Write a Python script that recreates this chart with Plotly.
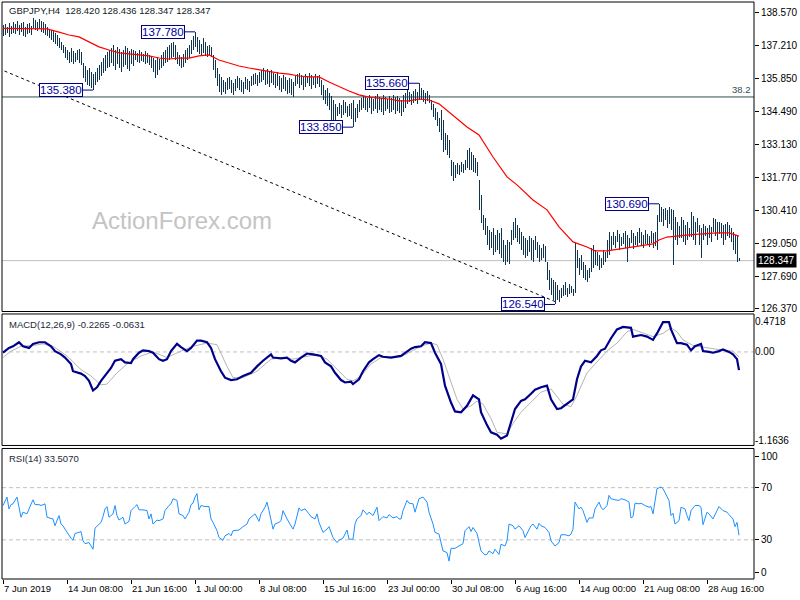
import plotly.graph_objects as go

# ---------------- data ----------------
symbol_title = "GBPJPY,H4\u00a0 128.420 128.436 128.347 128.347"
macd_title = "MACD(12,26,9) -0.2265 -0.0631"
rsi_title = "RSI(14) 33.5070"
watermark = "ActionForex.com"

# H4 bar highs / lows (bar index 0 = 7 Jun 2019)
highs = [
    138.06, 138.10, 137.98, 138.15, 138.02, 138.19, 138.10, 138.23, 138.06, 138.15,
    138.19, 137.98, 138.10, 138.15, 138.02, 138.35, 138.27, 138.19, 138.31, 138.23,
    138.19, 138.10, 137.98, 137.90,
    137.86, 137.82, 137.73, 137.65, 137.53, 137.36, 137.24,
    137.16, 137.03, 136.95, 137.12, 136.99, 136.91, 137.03, 137.07, 136.95,
    136.50, 136.37, 136.21, 136.29, 136.13, 136.04,
    136.13, 136.29, 136.41, 136.54, 136.70, 136.83, 136.95, 137.03,
    137.12, 137.24, 137.03, 137.16, 137.07, 136.95, 137.03, 137.20, 137.12, 136.99, 137.07, 137.03,
    136.99, 136.91, 137.03, 136.95, 136.87, 136.99, 136.91, 136.83,
    136.79, 136.70, 136.62, 136.74, 136.66,
    136.83, 136.95, 137.03, 137.16, 137.24, 137.32, 137.36, 137.24,
    136.95, 136.83, 136.74, 136.87, 137.03, 137.12,
    137.24, 137.44, 137.61, 137.78,
    137.57, 137.44, 137.28, 137.53, 137.36, 137.20, 137.24, 137.16,
    136.83, 136.62, 136.29, 136.04, 135.92,
    135.80, 135.71, 135.88, 135.92, 135.80, 135.67, 135.84, 135.96, 135.88, 135.80,
    135.71, 135.92, 135.84, 135.75, 135.96, 136.04, 136.08, 136.00, 136.13,
    136.21, 136.29, 136.17, 136.25, 136.13, 136.21, 136.08,
    136.04, 136.13, 135.96, 135.88, 136.00, 135.92, 135.80, 135.88, 135.84, 135.71,
    135.96, 136.04, 136.08, 136.00, 135.92, 136.04, 135.96, 136.08, 136.00, 135.92, 136.04, 135.96, 136.00,
    135.80, 135.59, 135.38, 135.47, 135.26, 135.14,
    134.97, 134.81, 134.68, 134.85, 134.76, 134.97, 134.89, 134.72, 134.81, 134.85, 134.97,
    134.64, 134.81, 134.97, 135.05, 135.14,
    135.14, 135.05, 135.18, 135.09, 135.01, 135.14, 135.22, 135.09, 135.05, 135.18,
    135.09, 135.01, 135.14, 135.05, 135.18, 135.09, 135.14, 135.05, 134.97,
    135.18, 135.26, 135.38, 135.30, 135.22, 135.34, 135.42, 135.30,
    135.66,
    135.47, 135.38, 135.26, 135.34, 135.18,
    134.97, 134.81, 134.64, 134.48, 134.23,
    134.56, 134.15,
    133.61, 133.53, 133.32,
    132.50, 132.42, 132.29,
    132.37, 132.29, 132.42, 132.33, 132.50,
    132.91, 132.99,
    132.83, 132.70, 132.58, 132.42,
    131.67, 131.05,
    130.23, 130.11,
    129.78, 129.61, 129.53, 129.70, 129.41, 129.61, 129.49,
    129.70, 129.20, 128.99,
    129.20, 129.12,
    129.61, 129.94, 130.11, 129.82, 129.70,
    129.53, 129.36, 129.28, 129.20,
    129.36, 129.28, 129.20, 129.36,
    129.12, 128.99, 128.87, 129.04, 128.95,
    128.29, 127.96, 127.63, 127.55,
    127.47, 127.35, 127.14, 127.22,
    127.35, 127.47, 127.22, 127.39, 127.30, 127.18,
    129.07,
    128.79, 128.46, 128.58, 128.29,
    128.17, 127.96, 128.05,
    128.87, 128.99, 128.79,
    128.71, 128.58, 128.46, 128.79, 128.71,
    129.20, 129.53, 129.36,
    129.53, 129.36, 129.61, 129.45, 129.32, 129.49, 129.57, 129.41, 129.28, 129.61, 129.49, 129.36, 129.53,
    129.70, 129.53, 129.41, 129.61, 129.45, 129.36, 129.57, 129.49, 129.53,
    130.23, 130.69,
    130.56, 130.48, 130.52, 130.44, 130.56, 130.48,
    130.44,
    130.15, 129.94, 129.78,
    130.15, 130.02, 129.82, 129.94, 129.70,
    130.35, 130.19, 129.94,
    130.11, 129.82, 129.70,
    129.86, 129.78, 129.70, 129.82, 129.74,
    130.11, 130.07, 129.94,
    129.94, 129.90, 129.82, 129.86, 129.94, 129.82,
    129.70, 129.53, 129.41,
    129.36, 128.44,
]
lows = [
    137.61, 137.65, 137.73, 137.57, 137.69, 137.73, 137.69, 137.82, 137.65, 137.78,
    137.61, 137.57, 137.69, 137.73, 137.65, 137.94, 137.86, 137.82, 137.90, 137.78,
    137.73, 137.65, 137.61, 137.53,
    137.44, 137.36, 137.28, 137.20, 137.12, 137.03, 136.91,
    136.70, 136.62, 136.50, 136.54, 136.46, 136.54, 136.62, 136.50, 136.41,
    135.88, 135.71, 135.59, 135.55, 135.47, 135.38,
    135.59, 135.71, 135.80, 135.96, 136.08, 136.17, 136.29, 136.33,
    136.50, 136.37, 136.21, 136.46, 136.29, 136.13, 136.33, 136.41, 136.25, 136.17, 136.46, 136.37,
    136.62, 136.54, 136.50, 136.58, 136.54, 136.46, 136.50, 136.41,
    136.29, 136.13, 135.88, 136.00, 136.21,
    136.29, 136.37, 136.50, 136.54, 136.62, 136.70, 136.74, 136.62,
    136.46, 136.37, 136.29, 136.33, 136.50, 136.62,
    136.70, 136.87, 137.03, 137.16,
    136.95, 136.87, 136.83, 136.91, 136.79, 136.74, 136.83, 136.74,
    136.21, 135.88, 135.55, 135.30, 135.18,
    135.30, 135.22, 135.38, 135.42, 135.26, 135.18, 135.34, 135.47, 135.38, 135.30,
    135.22, 135.42, 135.38, 135.30, 135.55, 135.59, 135.63, 135.55, 135.67,
    135.71, 135.80, 135.59, 135.63, 135.51, 135.67, 135.59,
    135.47, 135.55, 135.38, 135.30, 135.42, 135.34, 135.22, 135.26, 135.18, 135.09,
    135.55, 135.63, 135.47, 135.59, 135.38, 135.51, 135.67, 135.55, 135.42, 135.59, 135.47, 135.63, 135.51,
    135.18, 134.97, 134.81, 134.72, 134.56, 133.98,
    133.94, 134.15, 134.31, 134.39, 134.23, 134.35, 134.43, 134.27, 134.31, 134.19, 133.85,
    134.06, 134.23, 134.48, 134.56, 134.64,
    134.56, 134.48, 134.64, 134.39, 134.52, 134.60, 134.43, 134.56, 134.48, 134.35,
    134.52, 134.60, 134.43, 134.48, 134.56, 134.39, 134.52, 134.43, 134.31,
    134.48, 134.64, 134.81, 134.89, 134.76, 134.85, 134.93, 134.81,
    134.97,
    134.97, 134.89, 134.81, 134.93, 134.85,
    134.56, 134.27, 134.15, 133.90, 133.65,
    133.32, 132.83,
    132.91, 132.70, 132.58,
    131.84, 131.63, 131.76,
    131.92, 131.88, 132.00, 131.96, 132.09,
    132.17, 132.09,
    132.09, 132.00, 131.96, 131.84,
    130.44, 129.90,
    129.61, 129.41,
    128.99, 128.79, 128.87, 128.58, 128.71, 128.79, 128.62,
    128.46, 128.29, 128.17,
    128.29, 128.21,
    128.99, 129.20, 129.28, 129.12, 129.04,
    128.79, 128.58, 128.46, 128.54,
    128.71, 128.37, 128.29, 128.79,
    128.46, 128.29, 128.37, 128.46, 128.29,
    127.55, 127.14, 126.93, 126.73,
    126.54, 126.73, 126.64, 126.81,
    126.89, 126.93, 126.85, 126.97, 127.02, 126.89,
    127.02,
    128.05, 127.76, 127.96, 127.63,
    127.55, 127.47, 127.63,
    127.88, 128.05, 128.17,
    128.13, 127.96, 128.05, 128.17, 128.29,
    128.46, 128.58, 128.79,
    128.99, 128.87, 129.12, 128.79, 128.95, 129.04, 128.87, 128.29, 128.91, 129.07, 128.83, 128.99, 128.95,
    129.07, 128.95, 128.87, 129.04, 128.99, 128.91, 129.07, 128.87, 128.95,
    128.79, 129.94,
    129.94, 129.78, 130.02, 129.70, 129.86, 129.61,
    128.17,
    129.20, 128.99, 129.28,
    129.28, 129.12, 128.99, 129.20, 129.32,
    129.32, 129.20, 128.99,
    129.53, 128.99, 128.46,
    129.20, 129.36, 128.99, 129.28, 129.12,
    129.53, 129.36, 129.20,
    129.45, 129.28, 128.99, 129.20, 129.36, 129.28,
    129.12, 128.79, 128.62,
    128.30, 128.35,
]

# moving average (red)
ma_idx = [0, 22, 28, 33, 38, 43, 48, 53, 58, 63,
          68, 73, 78, 83, 88, 93, 98, 103, 108, 113,
          118, 123, 128, 133, 138, 143, 148, 153, 158, 163,
          168, 173, 178, 183, 188, 193, 198, 203, 208, 213,
          218, 223, 232, 238, 245, 252, 257, 265, 272, 278,
          285, 292, 296, 302, 315, 325, 328, 332, 343, 357,
          363, 368]
ma_val = [137.92, 137.90, 137.77, 137.65, 137.57, 137.36, 137.16, 137.03, 136.91, 136.87,
          136.83, 136.79, 136.70, 136.66, 136.70, 136.70, 136.79, 136.83, 136.62, 136.50,
          136.37, 136.29, 136.21, 136.13, 136.08, 136.04, 135.96, 135.92, 135.92, 135.71,
          135.51, 135.34, 135.18, 135.09, 135.05, 135.01, 134.93, 134.93, 135.01, 134.97,
          134.81, 134.48, 133.86, 133.53, 132.62, 131.80, 131.47, 130.85, 130.44, 129.74,
          129.12, 128.91, 128.75, 128.75, 128.91, 129.04, 129.20, 129.32, 129.41, 129.49,
          129.49, 129.36]

# MACD main line
macd_idx = [0, 3, 5, 8, 10, 13, 15, 18, 21, 24,
            26, 29, 31, 34, 35, 39, 41, 43, 45, 47,
            49, 52, 54, 56, 59, 61, 64, 65, 68, 70,
            73, 75, 78, 80, 82, 84, 87, 89, 92, 94,
            97, 99, 102, 104, 106, 109, 111, 114, 117, 120,
            124, 127, 130, 134, 135, 139, 142, 144, 146, 149,
            152, 155, 159, 161, 164, 166, 169, 171, 174, 175,
            178, 180, 183, 185, 188, 190, 194, 199, 201, 204,
            206, 209, 211, 214, 216, 219, 221, 224, 226, 229,
            232, 235, 238, 239, 242, 244, 247, 249, 252, 254,
            256, 259, 261, 264, 266, 269, 272, 274, 277, 279,
            282, 285, 287, 289, 291, 294, 297, 299, 301, 304,
            307, 310, 314, 315, 319, 322, 325, 327, 330, 333,
            334, 337, 339, 342, 344, 346, 349, 350, 353, 355,
            358, 360, 363, 365, 367, 368]
macd_val = [-0.01, 0.05, 0.07, 0.12, 0.07, 0.05, 0.10, 0.12, 0.12, 0.07,
            0.01, -0.03, -0.07, -0.15, -0.24, -0.27, -0.30, -0.36, -0.48, -0.44,
            -0.36, -0.26, -0.20, -0.11, -0.09, -0.13, -0.14, -0.09, -0.01, 0.02,
            0.01, -0.01, -0.09, -0.11, -0.09, 0.01, 0.10, 0.06, 0.01, 0.05,
            0.14, 0.14, 0.12, 0.05, -0.09, -0.24, -0.32, -0.35, -0.34, -0.30,
            -0.26, -0.18, -0.11, -0.03, -0.07, -0.08, -0.07, -0.11, -0.13, -0.07,
            -0.02, -0.03, -0.05, -0.13, -0.18, -0.26, -0.35, -0.38, -0.37, -0.40,
            -0.34, -0.24, -0.13, -0.09, -0.04, -0.06, -0.07, -0.05, -0.01, 0.04,
            0.06, 0.07, 0.12, 0.11, -0.01, -0.15, -0.42, -0.63, -0.74, -0.75,
            -0.67, -0.54, -0.59, -0.75, -0.91, -1.00, -1.03, -1.08, -1.04, -0.87,
            -0.71, -0.61, -0.59, -0.52, -0.47, -0.44, -0.42, -0.59, -0.71, -0.70,
            -0.65, -0.59, -0.34, -0.18, -0.11, -0.13, -0.05, 0.02, 0.04, 0.17,
            0.28, 0.31, 0.30, 0.19, 0.21, 0.19, 0.15, 0.23, 0.37, 0.37,
            0.28, 0.11, 0.11, 0.09, 0.02, 0.07, 0.10, 0.01, 0.00, -0.01,
            0.01, 0.03, 0.00, -0.03, -0.09, -0.2265]

# MACD signal line
sig_idx = [0, 4, 9, 15, 20, 25, 32, 39, 44, 49,
           52, 57, 62, 69, 75, 82, 89, 95, 102, 107,
           112, 115, 120, 127, 134, 140, 145, 152, 157, 162,
           167, 172, 175, 179, 184, 189, 199, 204, 209, 214,
           217, 220, 224, 227, 230, 234, 237, 240, 244, 247,
           252, 255, 259, 264, 269, 274, 277, 280, 284, 287,
           292, 297, 302, 307, 312, 315, 320, 325, 330, 334,
           337, 340, 345, 350, 355, 360, 365, 368]
sig_val = [-0.07, 0.01, 0.07, 0.08, 0.10, 0.07, -0.05, -0.22, -0.30, -0.41,
           -0.40, -0.26, -0.15, -0.05, 0.00, -0.07, 0.01, 0.07, 0.11, 0.09,
           -0.18, -0.32, -0.32, -0.24, -0.09, -0.07, -0.09, -0.05, -0.03, -0.09,
           -0.22, -0.34, -0.36, -0.30, -0.15, -0.07, -0.06, 0.01, 0.07, 0.11,
           0.09, -0.09, -0.38, -0.59, -0.71, -0.67, -0.61, -0.65, -0.83, -1.00,
           -1.02, -0.89, -0.75, -0.63, -0.50, -0.46, -0.55, -0.65, -0.68, -0.54,
           -0.26, -0.13, 0.01, 0.11, 0.25, 0.28, 0.23, 0.19, 0.23, 0.30,
           0.25, 0.15, 0.08, 0.06, 0.04, 0.02, 0.01, -0.0631]

# RSI(14)
rsi_idx = [0, 2, 3, 4, 5, 7, 8, 9, 10, 12,
           13, 15, 16, 18, 19, 21, 22, 23, 25, 26,
           28, 29, 30, 31, 33, 34, 35, 36, 38, 39,
           40, 41, 43, 44, 45, 46, 48, 49, 50, 51,
           52, 53, 55, 56, 57, 58, 60, 61, 63, 64,
           66, 67, 68, 70, 72, 73, 74, 75, 77, 78,
           80, 81, 83, 84, 85, 87, 88, 90, 91, 93,
           94, 95, 96, 97, 98, 99, 101, 103, 104, 105,
           107, 108, 110, 111, 113, 114, 115, 117, 118, 120,
           122, 123, 125, 126, 128, 129, 131, 132, 133, 135,
           136, 138, 139, 140, 142, 143, 145, 146, 148, 149,
           151, 153, 154, 156, 157, 158, 160, 162, 163, 165,
           167, 168, 170, 172, 173, 175, 176, 177, 179, 180,
           182, 183, 185, 187, 188, 190, 192, 193, 195, 197,
           198, 199, 200, 202, 203, 205, 206, 208, 209, 210,
           212, 213, 215, 216, 218, 219, 220, 221, 222, 223,
           224, 226, 228, 229, 230, 231, 233, 234, 235, 237,
           238, 239, 241, 242, 243, 245, 246, 248, 249, 251,
           252, 253, 255, 256, 258, 260, 261, 263, 264, 265,
           267, 268, 269, 271, 273, 274, 276, 278, 279, 281,
           283, 284, 285, 286, 288, 289, 290, 292, 293, 295,
           296, 298, 299, 300, 302, 303, 304, 306, 308, 309,
           311, 313, 314, 315, 316, 318, 319, 321, 323, 324,
           325, 327, 329, 330, 332, 333, 334, 335, 336, 338,
           339, 341, 342, 343, 344, 346, 348, 349, 350, 352,
           353, 355, 357, 358, 360, 362, 363, 365, 366, 367,
           368]
rsi_val = [56.3, 62.8, 53.7, 57.0, 57.6, 62.8, 55.0, 47.3, 51.2, 49.9,
           53.7, 60.7, 57.0, 57.0, 56.3, 57.6, 47.3, 46.8, 46.0, 40.8,
           48.6, 42.1, 40.8, 38.2, 33.1, 31.3, 29.7, 34.9, 35.7, 36.4,
           29.2, 27.1, 27.9, 25.3, 22.8, 39.0, 42.1, 43.4, 47.8, 53.7,
           55.5, 47.3, 49.9, 56.3, 48.6, 45.2, 47.3, 42.1, 44.2, 52.4,
           55.5, 57.0, 53.0, 53.0, 52.4, 46.0, 49.9, 42.1, 45.2, 44.7,
           46.0, 52.4, 56.3, 57.6, 61.5, 60.2, 49.9, 48.6, 46.0, 51.2,
           57.0, 58.1, 62.8, 65.4, 53.0, 56.3, 55.5, 55.5, 46.0, 43.4,
           37.0, 31.8, 29.7, 33.1, 34.9, 33.1, 37.0, 37.5, 37.5, 40.1,
           42.1, 46.0, 48.6, 49.9, 44.2, 49.9, 55.0, 58.9, 52.4, 38.2,
           42.1, 43.4, 44.7, 52.4, 46.0, 43.4, 38.2, 42.1, 54.5, 52.4,
           53.7, 49.9, 47.8, 46.0, 49.9, 43.4, 35.7, 38.2, 40.1, 31.8,
           27.9, 29.7, 31.3, 37.5, 30.5, 30.5, 42.1, 46.0, 48.6, 53.0,
           49.3, 51.2, 48.6, 55.0, 44.7, 47.8, 46.8, 49.3, 46.8, 47.8,
           46.0, 46.0, 52.4, 60.2, 58.1, 57.6, 51.2, 61.5, 62.2, 62.8,
           58.9, 51.2, 42.1, 35.7, 34.4, 27.9, 21.5, 20.9, 20.2, 13.7,
           23.5, 23.5, 25.3, 26.6, 27.1, 37.0, 40.1, 36.4, 39.5, 34.9,
           27.9, 21.5, 18.4, 18.9, 21.5, 19.4, 22.8, 18.9, 26.6, 25.3,
           29.2, 42.1, 40.8, 38.2, 40.8, 37.0, 31.8, 37.5, 40.8, 42.1,
           38.2, 42.6, 40.8, 39.5, 35.7, 29.2, 25.3, 27.9, 33.9, 33.9,
           33.1, 34.4, 38.2, 58.9, 53.7, 55.0, 52.4, 43.4, 46.8, 46.8,
           53.7, 58.9, 55.0, 53.0, 56.3, 64.1, 61.5, 60.7, 60.2, 61.5,
           60.7, 58.9, 46.8, 47.8, 58.1, 57.6, 58.1, 56.3, 55.0, 55.5,
           49.9, 69.2, 70.5, 69.2, 63.3, 60.2, 48.6, 50.4, 42.1, 44.7,
           55.0, 53.7, 48.6, 44.7, 52.4, 56.3, 56.3, 55.0, 41.6, 51.2,
           49.9, 46.0, 52.4, 55.5, 52.4, 51.2, 49.3, 46.0, 40.1, 43.4,
           33.5]

# marked swing highs / lows
label_idx = [45, 96, 175, 208, 276, 328]
label_price = [135.380, 137.780, 133.850, 135.660, 126.540, 130.690]

# dotted trend line (bar index, price)
trend_idx = [-2, 276]
trend_val = [136.26, 126.66]

fib_level = 135.095
fib_text = "38.2"
last_price = 128.347

price_ticks = [138.570, 137.210, 135.850, 134.490, 133.130, 131.770, 130.410, 129.050, 127.690, 126.370]
macd_range = [-1.1636, 0.4718]
macd_tick_vals = [0.376, 0.0, -1.104]
macd_tick_text = ["0.4718", "0.00", "-1.1636"]
rsi_levels = [70, 30]
rsi_tick_vals = [93.7, 70, 30, 5.1]
rsi_tick_text = ["100", "70", "30", "0"]

date_idx = [0, 32, 64, 96, 128, 160, 192, 224, 256, 288, 320, 352]
date_labels = ["7 Jun 2019", "14 Jun 08:00", "21 Jun 16:00", "1 Jul 00:00", "8 Jul 08:00",
               "15 Jul 16:00", "23 Jul 00:00", "30 Jul 08:00", "6 Aug 16:00",
               "14 Aug 00:00", "21 Aug 08:00", "28 Aug 16:00"]

# ---------------- styling ----------------
FONT = "Liberation Sans, Arial, sans-serif"
BAR_COLOR = "#0e3450"
NAVY = "#000080"

n = min(len(highs), len(lows))
bar_x = list(range(n))
bar_len = [highs[i] - lows[i] for i in range(n)]

dom_main = [0.4636, 1.0]
dom_macd = [0.2314, 0.4593]
dom_rsi = [0.0, 0.2262]

fig = go.Figure()

# price bars
fig.add_trace(go.Bar(x=bar_x, y=bar_len, base=lows[:n], width=0.5, offset=0,
                     marker=dict(color=BAR_COLOR, line=dict(width=0)),
                     xaxis="x", yaxis="y", hoverinfo="skip"))
# trend line
fig.add_trace(go.Scatter(x=trend_idx, y=trend_val, mode="lines",
                         line=dict(color="black", width=1, dash="3px,3px"),
                         xaxis="x", yaxis="y", hoverinfo="skip"))
# moving average
fig.add_trace(go.Scatter(x=ma_idx, y=ma_val, mode="lines",
                         line=dict(color="#ff0000", width=1.2),
                         xaxis="x", yaxis="y", hoverinfo="skip"))
# label connectors
for idx, p in zip(label_idx, label_price):
    fig.add_trace(go.Scatter(x=[idx - 5, idx], y=[p, p], mode="lines",
                             line=dict(color=NAVY, width=1),
                             xaxis="x", yaxis="y", hoverinfo="skip"))

# MACD
fig.add_trace(go.Scatter(x=sig_idx, y=sig_val, mode="lines",
                         line=dict(color="#b4b4b4", width=1),
                         xaxis="x", yaxis="y2", hoverinfo="skip"))
fig.add_trace(go.Scatter(x=macd_idx, y=macd_val, mode="lines",
                         line=dict(color="#00008b", width=2.2),
                         xaxis="x", yaxis="y2", hoverinfo="skip"))
# RSI
fig.add_trace(go.Scatter(x=rsi_idx, y=rsi_val, mode="lines",
                         line=dict(color="#1e90ff", width=1),
                         xaxis="x", yaxis="y3", hoverinfo="skip"))

shapes = []
for d in (dom_main, dom_macd, dom_rsi):
    shapes.append(dict(type="rect", xref="paper", yref="paper", x0=0, x1=1,
                       y0=d[0], y1=d[1], line=dict(color="black", width=1), layer="above"))
shapes.append(dict(type="line", xref="paper", yref="y", x0=0, x1=1, y0=fib_level, y1=fib_level,
                   line=dict(color="#2f4f4f", width=1), layer="below"))
shapes.append(dict(type="line", xref="paper", yref="y", x0=0, x1=1, y0=last_price, y1=last_price,
                   line=dict(color="#c0c0c0", width=1), layer="below"))
shapes.append(dict(type="line", xref="paper", yref="y2", x0=0, x1=1, y0=0, y1=0,
                   line=dict(color="#c0c0c0", width=1, dash="4px,3px"), layer="below"))
for lv in rsi_levels:
    shapes.append(dict(type="line", xref="paper", yref="y3", x0=0, x1=1, y0=lv, y1=lv,
                       line=dict(color="#c0c0c0", width=1, dash="4px,3px"), layer="below"))

annotations = []
for idx, p in zip(label_idx, label_price):
    annotations.append(dict(x=idx - 5, y=p, xref="x", yref="y", text=f"{p:.3f}",
                            xanchor="right", yanchor="middle", showarrow=False,
                            font=dict(family=FONT, size=11.5, color="#0000a0"),
                            bordercolor=NAVY, borderwidth=1, borderpad=0, bgcolor="white"))
annotations.append(dict(x=0.117, y=0.6205, xref="paper", yref="paper", text=watermark,
                        xanchor="left", yanchor="middle", showarrow=False,
                        font=dict(family=FONT, size=24, color="#c4c4c4")))
annotations.append(dict(x=0.0066, y=0.986, xref="paper", yref="paper", text=symbol_title,
                        xanchor="left", yanchor="middle", showarrow=False,
                        font=dict(family=FONT, size=9.5, color="#111a24")))
annotations.append(dict(x=0.0066, y=0.4419, xref="paper", yref="paper", text=macd_title,
                        xanchor="left", yanchor="middle", showarrow=False,
                        font=dict(family=FONT, size=9.5, color="#1b2838")))
annotations.append(dict(x=0.0066, y=0.208, xref="paper", yref="paper", text=rsi_title,
                        xanchor="left", yanchor="middle", showarrow=False,
                        font=dict(family=FONT, size=9.5, color="#1b2838")))
annotations.append(dict(x=1, y=fib_level, xref="paper", yref="y", text=fib_text,
                        xanchor="right", yanchor="bottom", showarrow=False, xshift=-1,
                        font=dict(family=FONT, size=9.5, color="#2f4f4f")))
annotations.append(dict(x=1, y=last_price, xref="paper", yref="y", text=f"{last_price:.3f}",
                        xanchor="left", yanchor="middle", showarrow=False, xshift=2,
                        bgcolor="black", borderpad=1,
                        font=dict(family=FONT, size=10, color="white")))
for idx, lab in zip(date_idx, date_labels):
    annotations.append(dict(x=idx, y=0, xref="x", yref="paper", text=lab,
                            xanchor="left", yanchor="top", showarrow=False, yshift=-2, xshift=-1,
                            font=dict(family=FONT, size=9.5, color="black")))

yfont = dict(family=FONT, size=10, color="black")
fig.update_layout(
    width=800, height=600,
    margin=dict(l=2, r=46, t=2, b=21),
    plot_bgcolor="white", paper_bgcolor="white",
    showlegend=False, bargap=0,
    xaxis=dict(range=[-0.5, 375.5], domain=[0, 1], anchor="y3", showgrid=False, zeroline=False,
               ticks="outside", ticklen=4, tickcolor="black", tickvals=date_idx,
               showticklabels=False, fixedrange=True),
    yaxis=dict(domain=dom_main, range=[126.25, 139.01], side="right", anchor="x",
               showgrid=False, zeroline=False, ticks="outside", ticklen=4, tickcolor="black",
               tickvals=price_ticks, ticktext=[f"{v:.3f}" for v in price_ticks], tickfont=yfont),
    yaxis2=dict(domain=dom_macd, range=macd_range, side="right", anchor="x",
                showgrid=False, zeroline=False, ticks="", ticklen=0,
                tickvals=macd_tick_vals, ticktext=macd_tick_text, tickfont=yfont),
    yaxis3=dict(domain=dom_rsi, range=[0, 100], side="right", anchor="x",
                showgrid=False, zeroline=False, ticks="outside", ticklen=4, tickcolor="black",
                tickvals=rsi_tick_vals, ticktext=rsi_tick_text, tickfont=yfont),
    shapes=shapes,
    annotations=annotations,
)

post = ("document.body.style.margin='0px';document.body.style.padding='0px';"
        "document.querySelectorAll('.barlayer path').forEach(function(p){p.style.shapeRendering='crispEdges';});")
fig.write_html("out.html", config={"displayModeBar": False}, post_script=post)
